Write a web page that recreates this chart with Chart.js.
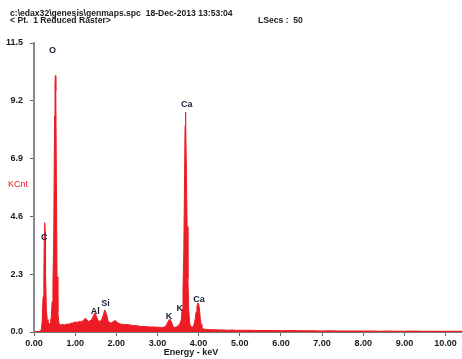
<!DOCTYPE html>
<html>
<head>
<meta charset="utf-8">
<script src="https://cdn.jsdelivr.net/npm/chart.js@4/dist/chart.umd.min.js"></script>
<style>
html,body{margin:0;padding:0;background:#fff;}
#c{display:block;}
</style>
</head>
<body>
<canvas id="c" width="462" height="359"></canvas>
<script>
// Energy (keV) and counts (KCnt)
const energy = [0.00,0.10,0.16,0.18,0.20,0.22,0.24,0.25,0.26,0.27,0.28,0.30,0.32,0.34,0.36,0.38,0.40,
  0.42,0.44,0.46,0.48,0.50,0.51,0.52,0.53,0.54,0.56,0.58,0.60,0.62,0.65,
  0.70,0.75,0.80,0.85,0.90,0.95,1.00,1.05,1.10,1.15,1.20,1.25,1.28,1.32,1.36,1.40,1.44,1.48,1.52,1.56,1.60,1.64,1.68,1.72,1.76,1.80,1.84,1.88,1.92,1.96,2.00,2.05,2.10,2.20,2.30,2.40,2.50,2.60,2.70,2.80,2.90,3.00,3.10,
  3.18,3.22,3.26,3.30,3.34,3.38,3.42,3.46,3.50,3.54,3.56,3.58,3.60,3.62,3.64,3.66,3.67,3.68,3.69,3.70,3.72,3.74,3.76,3.78,3.80,3.83,3.86,3.88,3.90,3.92,3.94,3.96,3.98,4.00,4.02,4.04,4.06,4.08,4.10,4.15,4.20,4.30,4.40,4.50,4.60,4.70,4.80,4.90,5.00,
  5.20,5.40,5.60,5.80,6.00,6.20,6.40,6.60,6.80,7.00,7.20,7.40,7.60,7.80,8.00,8.20,8.40,8.60,8.80,9.00,9.20,9.40,9.60,9.80,10.00,10.20,10.40];
const kcnt = [0.00,0.01,0.03,0.12,0.45,1.40,2.30,3.80,4.35,4.00,2.40,0.90,0.50,0.36,0.32,0.33,0.38,
  0.60,1.20,1.90,3.80,8.60,9.90,10.20,9.60,7.00,2.20,0.80,0.40,0.30,0.28,
  0.30,0.28,0.32,0.31,0.35,0.36,0.40,0.38,0.42,0.40,0.47,0.55,0.50,0.42,0.44,0.50,0.62,0.76,0.62,0.45,0.42,0.48,0.65,0.88,0.72,0.45,0.38,0.36,0.40,0.46,0.42,0.35,0.32,0.30,0.29,0.26,0.25,0.22,0.22,0.20,0.20,0.19,0.18,
  0.20,0.28,0.42,0.52,0.40,0.22,0.18,0.20,0.25,0.32,0.40,0.50,0.90,1.70,3.20,6.40,8.20,8.75,8.40,6.80,4.20,2.10,0.90,0.40,0.25,0.20,0.20,0.26,0.36,0.55,0.80,1.02,1.15,1.13,0.92,0.55,0.30,0.18,0.13,0.11,0.10,0.09,0.09,0.08,0.08,0.07,0.08,0.07,0.07,
  0.07,0.06,0.06,0.06,0.05,0.06,0.05,0.05,0.05,0.04,0.05,0.04,0.04,0.04,0.04,0.04,0.03,0.04,0.03,0.03,0.04,0.03,0.03,0.03,0.03,0.03,0.03];

// Peak labels (element, label energy, label height in KCnt)
const peakNames = ["C","O","Al","Si","K","K","Ca","Ca"];
const peakE     = [0.25,0.45,1.49,1.74,3.28,3.54,3.71,4.01];
const peakY     = [3.77,11.22,0.83,1.15,0.63,0.95,9.04,1.31];

const xTicks = [0,1,2,3,4,5,6,7,8,9,10];
const yTicks = [0,2.3,4.6,6.9,9.2,11.5];

const headerLine1 = "c:\\edax32\\genesis\\genmaps.spc  18-Dec-2013 13:53:04";
const headerLine2 = "< Pt.  1 Reduced Raster>";
const headerRight = "LSecs :  50";
const yTitle = "KCnt";
const xTitle = "Energy - keV";

const RED = "#ec1c24";
const TXT = "#1a1a1a";
const FAM = "'Liberation Sans', Arial, sans-serif";
const FONT = "bold 8.6px " + FAM;

const textPlugin = {
  id: 'texts',
  afterDraw(chart) {
    const ctx = chart.ctx;
    const xs = chart.scales.x, ys = chart.scales.y;
    ctx.save();
    ctx.font = FONT;
    ctx.fillStyle = TXT;
    ctx.textBaseline = 'middle';
    ctx.textAlign = 'left';
    ctx.fillText(headerLine1, 10, 14);
    ctx.fillText(headerLine2, 10, 20.5);
    ctx.fillText(headerRight, 258, 20.5);
    ctx.textAlign = 'center';
    ctx.font = "bold 9px " + FAM;
    ctx.fillText(xTitle, 191, 353);
    ctx.fillStyle = RED;
    ctx.font = "9px " + FAM;
    ctx.textAlign = 'left';
    ctx.fillText(yTitle, 8, 185);
    ctx.font = "bold 9px " + FAM;
    ctx.fillStyle = "#1c1c38";
    ctx.textAlign = 'center';
    for (let i = 0; i < peakNames.length; i++) {
      ctx.fillText(peakNames[i], xs.getPixelForValue(peakE[i]), ys.getPixelForValue(peakY[i]));
    }
    ctx.restore();
  }
};

new Chart(document.getElementById('c'), {
  type: 'line',
  data: {
    datasets: [{
      data: energy.map((e, i) => ({x: e, y: kcnt[i]})),
      borderColor: RED,
      backgroundColor: RED,
      borderWidth: 1,
      pointRadius: 0,
      fill: 'origin',
      tension: 0
    }]
  },
  options: {
    responsive: false,
    animation: false,
    layout: {padding: {top: 43, right: 0, left: 0, bottom: 0}},
    plugins: {legend: {display: false}, tooltip: {enabled: false}},
    scales: {
      x: {
        type: 'linear',
        min: 0, max: 10.4,
        afterBuildTicks: s => { s.ticks = xTicks.map(v => ({value: v})); },
        afterFit: s => { s.height = 27; },
        ticks: {
          callback: v => Number(v).toFixed(2),
          font: {family: FAM, size: 9, weight: 'bold'},
          color: TXT, padding: 2, maxRotation: 0, autoSkip: false
        },
        grid: {drawOnChartArea: false, drawTicks: true, tickLength: 4, color: '#666', lineWidth: 1},
        border: {color: '#7a7a7a', width: 2}
      },
      y: {
        type: 'linear',
        min: 0, max: 11.5,
        afterBuildTicks: s => { s.ticks = yTicks.map(v => ({value: v})); },
        afterFit: s => { s.width = 34; },
        ticks: {
          callback: v => Number(v).toFixed(1),
          font: {family: FAM, size: 9, weight: 'bold'},
          color: TXT, padding: 7, autoSkip: false
        },
        grid: {drawOnChartArea: false, drawTicks: true, tickLength: 4, color: '#666', lineWidth: 1},
        border: {color: '#8a8a8a', width: 2}
      }
    }
  },
  plugins: [textPlugin]
});
</script>
</body>
</html>
